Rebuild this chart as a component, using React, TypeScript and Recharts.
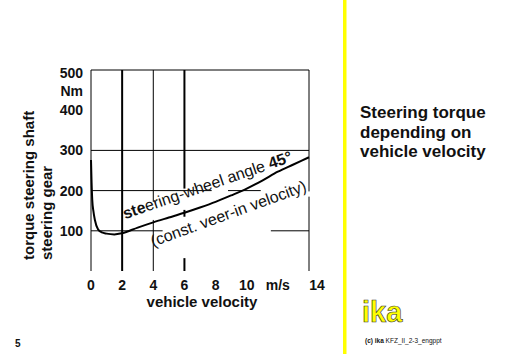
import { LineChart, Line, XAxis, YAxis, ReferenceLine, ReferenceDot } from "recharts"

// curve (m/s -> Nm)
const velocity = [0, 0.03, 0.08, 0.15, 0.25, 0.45, 0.7, 1.0, 1.5, 2, 3, 4, 5, 6, 7, 8, 9, 10, 11, 12, 13, 14]
const torque = [276, 230, 177, 150, 127, 104, 96, 93, 91, 94, 108, 121, 133, 145, 158, 172, 188, 205, 225, 247, 265, 283]

const xTicks = [0, 2, 4, 6, 8, 10, 12, 14]
const xTickLabels = ["0", "2", "4", "6", "8", "10", "m/s", "14"]
const yTicks = [100, 200, 300, 400, 448, 500]
const yTickLabels = ["100", "200", "300", "400", "Nm", "500"]

// grid pieces (the original has gaps where the text boxes sit)
const hLines = [
  { y: 500, from: 0, to: 14 },
  { y: 300, from: 0, to: 14 },
  { y: 200, from: 0, to: 7.75 },
  { y: 200, from: 8.8, to: 10.9 },
  { y: 100, from: 0, to: 4.6 },
  { y: 100, from: 11.55, to: 14 },
]
const vLines = [
  { x: 0, from: 0, to: 500, w: 1 },
  { x: 2, from: 0, to: 500, w: 2 },
  { x: 4, from: 0, to: 127, w: 1 },
  { x: 4, from: 172, to: 500, w: 1 },
  { x: 6, from: 205, to: 500, w: 2 },
  { x: 6, from: 135, to: 152, w: 2 },
  { x: 6, from: 0, to: 32, w: 2 },
  { x: 14, from: 198, to: 500, w: 1 },
  { x: 14, from: 0, to: 185, w: 1 },
]

const font = "'Liberation Sans', Arial, sans-serif"

const data = velocity.map((v, i) => ({ v, torque: torque[i] }))

const XTick = ({ x, y, payload }: any) => {
  const i = xTicks.indexOf(payload.value)
  return (
    <text x={x + (payload.value === 14 ? 8 : 0)} y={y + 19} textAnchor="middle" fontSize={14} fontWeight="bold" fill="#111" fontFamily={font}>
      {xTickLabels[i]}
    </text>
  )
}

const YTick = ({ x, y, payload }: any) => {
  const i = yTicks.indexOf(payload.value)
  return (
    <text x={x} y={y + 5 + (payload.value === 500 ? 3 : 0)} textAnchor="end" fontSize={14} fontWeight="bold" fill="#111" fontFamily={font}>
      {yTickLabels[i]}
    </text>
  )
}

const YLabel = ({ viewBox }: any) => {
  const bottom = viewBox.y + viewBox.height - 11
  return (
    <g fontFamily={font} fontSize={15} fontWeight="bold" fill="#111">
      <text x={viewBox.x - 17.5} y={bottom} transform={`rotate(-90 ${viewBox.x - 17.5} ${bottom})`}>
        torque steering shaft
      </text>
      <text x={viewBox.x + 1} y={bottom} transform={`rotate(-90 ${viewBox.x + 1} ${bottom})`}>
        steering gear
      </text>
    </g>
  )
}

const XLabel = ({ viewBox }: any) => (
  <text x={viewBox.x + viewBox.width / 2 + 2} y={viewBox.y + 36} textAnchor="middle" fontFamily={font} fontSize={15} fontWeight="bold" fill="#111">
    vehicle velocity
  </text>
)

const Note1 = ({ cx, cy }: any) => (
  <text x={cx} y={cy} transform={`rotate(-19 ${cx} ${cy})`} fontFamily={font} fontSize={16} fill="#111">
    <tspan fontWeight="bold">ste</tspan>ering-wheel angle <tspan fontWeight="bold">45°</tspan>
  </text>
)

const Note2 = ({ cx, cy }: any) => (
  <text x={cx} y={cy} transform={`rotate(-20 ${cx} ${cy})`} fontFamily={font} fontSize={16} fill="#111">
    (const.  veer-in velocity)
  </text>
)

export default function App() {
  return (
    <div style={{ position: "absolute", left: 0, top: 0, width: 512, height: 354, background: "#fff" }}>
      <LineChart width={512} height={354} data={data} margin={{ top: 70, right: 203, left: 51, bottom: 43 }}>
        <XAxis
          dataKey="v"
          type="number"
          domain={[0, 14]}
          ticks={xTicks}
          interval={0}
          axisLine={false}
          tickLine={false}
          tickSize={0}
          tickMargin={0}
          height={40}
          tick={<XTick />}
          label={{ content: <XLabel /> }}
        />
        <YAxis
          type="number"
          domain={[0, 500]}
          ticks={yTicks}
          interval={0}
          axisLine={false}
          tickLine={false}
          tickSize={0}
          tickMargin={8}
          width={40}
          tick={<YTick />}
          label={{ content: <YLabel /> }}
        />
        {hLines.map((h, i) => (
          <ReferenceLine key={"h" + i} segment={[{ x: h.from, y: h.y }, { x: h.to, y: h.y }]} stroke="#000" strokeWidth={1} />
        ))}
        {vLines.map((l, i) => (
          <ReferenceLine key={"v" + i} segment={[{ x: l.x, y: l.from }, { x: l.x, y: l.to }]} stroke="#000" strokeWidth={l.w} />
        ))}
        <ReferenceDot x={2.18} y={129} r={0} shape={<Note1 />} />
        <ReferenceDot x={3.98} y={60} r={0} shape={<Note2 />} />
        <Line type="monotone" dataKey="torque" stroke="#000" strokeWidth={2} dot={false} isAnimationActive={false} />
      </LineChart>
      <svg width={512} height={354} style={{ position: "absolute", left: 0, top: 0, pointerEvents: "none" }}>
        <rect x={343} y={0} width={3.5} height={354} fill="#ffff00" />
        <g fontFamily={font} fontSize={17} fontWeight="bold" fill="#111">
          <text x={360} y={118}>Steering torque</text>
          <text x={360} y={137.5}>depending on</text>
          <text x={360} y={156.5}>vehicle velocity</text>
        </g>
        <text x={362} y={322} fontFamily={font} fontSize={29} fontWeight="bold" fill="#ffff00" stroke="#333" strokeWidth={0.6}>
          ika
        </text>
        <text x={365} y={343} fontFamily={font} fontSize={6.5} fill="#111">
          <tspan fontWeight="bold">(c) ika</tspan>  KFZ_II_2-3_engppt
        </text>
        <text x={15} y={347} fontFamily={font} fontSize={10} fontWeight="bold" fill="#111">
          5
        </text>
      </svg>
    </div>
  )
}
